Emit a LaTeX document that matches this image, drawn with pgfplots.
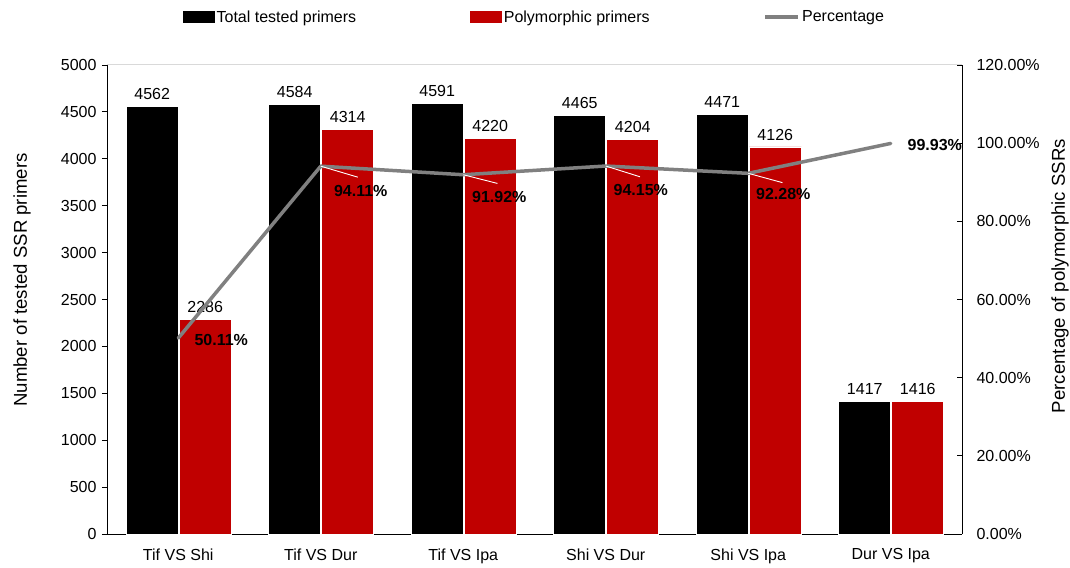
\documentclass[border=0pt]{standalone}
\usepackage{pgfplots}
\usepackage{pgfplotstable}
\pgfplotsset{compat=1.18}
\usepackage{fontspec}
\setmainfont{Liberation Sans}
\definecolor{barred}{HTML}{C00000}
\definecolor{linegray}{HTML}{808080}
\definecolor{topgray}{HTML}{D9D9D9}

\pgfplotstableread{
x total poly
0 4562 2286
1 4584 4314
2 4591 4220
3 4465 4204
4 4471 4126
5 1417 1416
}\counts

\pgfplotstableread{
x pct dx dy
0 50.11 43 -2
1 94.11 40 -25
2 91.92 36 -22
3 94.15 35 -24
4 92.28 35 -21
5 99.93 44 -1.5
}\pcts

\newcommand{\fs}{\fontsize{16bp}{19bp}\selectfont}
\newcommand{\fl}{\fontsize{18.6bp}{22bp}\selectfont}

\begin{document}
\begin{tikzpicture}
\path[use as bounding box] (0,0) rectangle (1070bp,568bp);
\begin{axis}[
  at={(107bp,34bp)}, anchor=south west,
  scale only axis, width=855bp, height=469bp,
  clip=false,
  xmin=-0.5, xmax=5.5, ymin=0, ymax=5000,
  axis x line*=bottom, axis y line*=left,
  axis line style={black, line width=0.8bp, -},
  xtick={0,...,5},
  xticklabels={Tif VS Shi, Tif VS Dur, Tif VS Ipa, Shi VS Dur, Shi VS Ipa, Dur VS Ipa},
  x tick style={draw=none},
  xticklabel style={font=\fs, yshift=-6bp},
  ytick={0,500,...,5000},
  y tick style={black, line width=0.8bp},
  yticklabel style={font=\fs, xshift=-2bp},
  tick align=outside, major tick length=5bp,
  /pgf/number format/1000 sep={},
  /pgf/number format/assume math mode=true,
  ylabel={Number of tested SSR primers},
  ylabel style={font=\fl, at={(axis description cs:-0.0994,0.5416)}, anchor=center},
  legend columns=3,
  legend style={at={(0.5,1)}, anchor=center, yshift=48bp, draw=none, fill=none,
    font=\fs, inner sep=0pt,
    /tikz/every even column/.append style={column sep=112bp}},
]
\addplot[ybar, bar width=52bp, bar shift=-26bp, fill=black, draw=white, line width=0.6bp,
  legend image code/.code={\fill[black] (0bp,-5.5bp) rectangle (31bp,5.5bp);},
  nodes near coords={\pgfmathprintnumber[1000 sep={},assume math mode=true]{\pgfplotspointmeta}},
  every node near coord/.append style={font=\fs, text=black, anchor=south, xshift=-26bp, yshift=3bp}]
  table[x=x, y=total]{\counts};
\addlegendentry{Total tested primers}
\addplot[ybar, bar width=52bp, bar shift=27bp, fill=barred, draw=white, line width=0.6bp,
  legend image code/.code={\fill[barred] (0bp,-5.5bp) rectangle (31bp,5.5bp);},
  nodes near coords={\pgfmathprintnumber[1000 sep={},assume math mode=true]{\pgfplotspointmeta}},
  every node near coord/.append style={font=\fs, text=black, anchor=south, xshift=27bp, yshift=3bp}]
  table[x=x, y=poly]{\counts};
\addlegendentry{Polymorphic primers}
\addlegendimage{linegray, line width=3.5bp, legend image code/.code={\draw[linegray, line width=3.5bp] (0bp,0bp) -- (33bp,0bp);}}
\addlegendentry{Percentage}
\draw[topgray, line width=1bp] (rel axis cs:0,1) -- (rel axis cs:1,1);
\end{axis}

\begin{axis}[
  at={(107bp,34bp)}, anchor=south west,
  scale only axis, width=855bp, height=469bp,
  clip=false,
  xmin=-0.5, xmax=5.5, ymin=0, ymax=120,
  axis x line=none, axis y line*=right,
  axis line style={black, line width=0.8bp, -},
  ytick={0,20,...,120},
  yticklabel={\pgfmathprintnumber[fixed,fixed zerofill,precision=2,assume math mode=true]{\tick}\%},
  yticklabel style={font=\fs, xshift=11bp},
  y tick style={black, line width=0.8bp},
  tick align=inside, major tick length=5bp,
  ylabel={Percentage of polymorphic SSRs},
  ylabel style={font=\fl, at={(axis description cs:1.1146,0.55)}, anchor=center},
]
\addplot[linegray, line width=3.5bp, line join=round, line cap=round, mark=none,
  point meta=explicit,
  visualization depends on={\thisrow{dx} \as \dx},
  visualization depends on={\thisrow{dy} \as \dy},
  nodes near coords={\bfseries\pgfmathprintnumber[fixed,fixed zerofill,precision=2,assume math mode=true]{\pgfplotspointmeta}\%},
  every node near coord/.append style={font=\fs, text=black, anchor=center, xshift=\dx bp, yshift=\dy bp}]
  table[x=x, y=pct, meta=pct]{\pcts};
\addplot[white, line width=0.9bp, mark=none] coordinates {(1,94.11) (1.26,91.3)};
\addplot[white, line width=0.9bp, mark=none] coordinates {(2,91.92) (2.24,89.7)};
\addplot[white, line width=0.9bp, mark=none] coordinates {(3,94.15) (3.24,91.4)};
\addplot[white, line width=0.9bp, mark=none] coordinates {(4,92.28) (4.24,89.9)};
\end{axis}
\end{tikzpicture}
\end{document}
